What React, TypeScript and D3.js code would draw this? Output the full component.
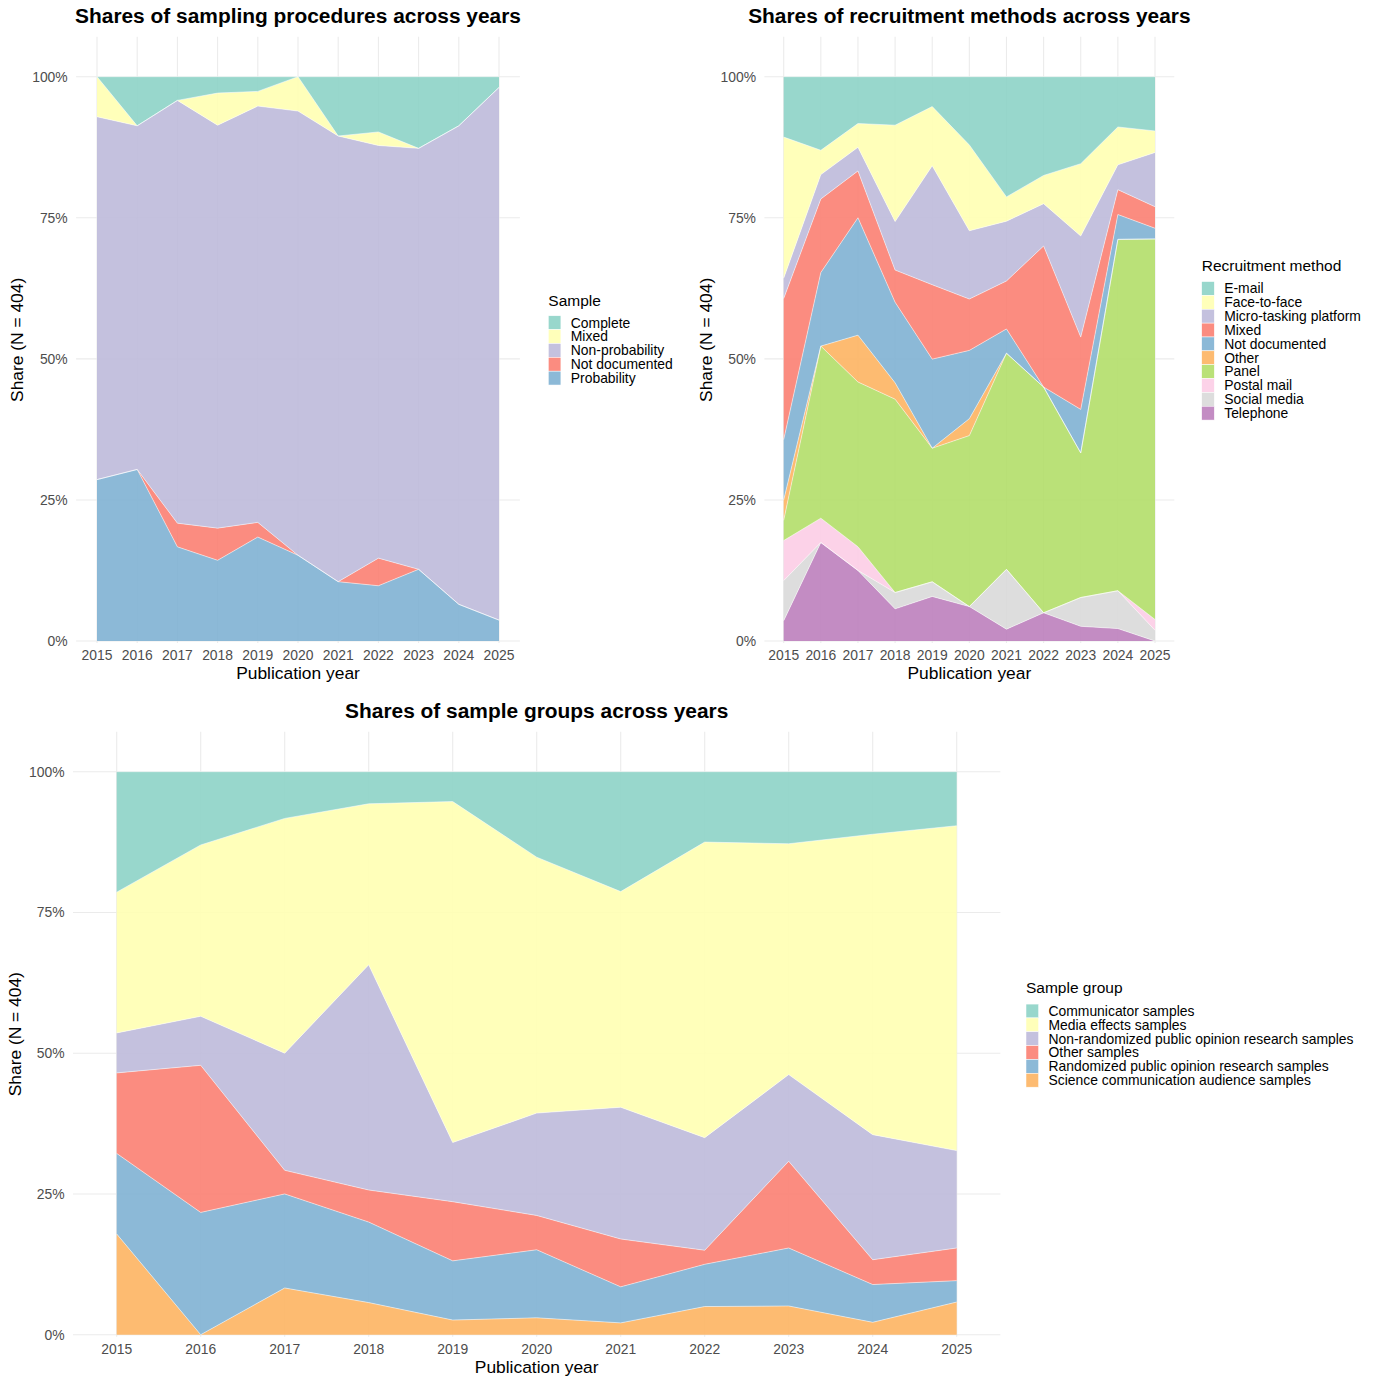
import React, { useEffect, useRef } from 'react'
import * as d3 from 'd3'

const FONT = 'Liberation Sans, Arial, Helvetica, sans-serif'

const years = [2015, 2016, 2017, 2018, 2019, 2020, 2021, 2022, 2023, 2024, 2025]
const shareTicks = [0, 0.25, 0.5, 0.75, 1]

// RColorBrewer Set3, in legend order
const set3 = ['#8DD3C7', '#FFFFB3', '#BEBADA', '#FB8072', '#80B1D3', '#FDB462', '#B3DE69', '#FCCDE5', '#D9D9D9', '#BC80BD']

// sampling procedures, % of studies per year
const sampleLabels = ['Complete', 'Mixed', 'Non-probability', 'Not documented', 'Probability']
const sampleComplete = [0, 8.7, 4.2, 2.9, 2.6, 0, 10.5, 9.8, 12.7, 8.7, 1.9]
const sampleMixed = [7.1, 0, 0, 5.7, 2.6, 6.1, 0, 2.4, 0, 0, 0]
const sampleNonProbability = [64.3, 60.9, 75.0, 71.4, 73.7, 78.8, 78.9, 73.2, 74.6, 84.8, 94.4]
const sampleNotDocumented = [0, 0, 4.2, 5.7, 2.6, 0, 0, 4.9, 0, 0, 0]
const sampleProbability = [28.6, 30.4, 16.7, 14.3, 18.4, 15.2, 10.5, 9.8, 12.7, 6.5, 3.7]

// recruitment methods
const recruitLabels = ['E-mail', 'Face-to-face', 'Micro-tasking platform', 'Mixed', 'Not documented', 'Other', 'Panel', 'Postal mail', 'Social media', 'Telephone']
const recruitEmail = [10.7, 13.0, 8.3, 8.6, 5.3, 12.1, 21.3, 17.5, 15.4, 8.9, 9.6]
const recruitFaceToFace = [25.0, 4.3, 4.2, 17.1, 10.5, 15.2, 4.3, 5.0, 12.8, 6.7, 3.8]
const recruitMicroTasking = [3.6, 4.3, 4.2, 8.6, 21.1, 12.1, 10.6, 7.5, 17.9, 4.4, 9.6]
const recruitMixed = [25.0, 13.0, 8.3, 5.7, 13.2, 9.1, 8.5, 25.0, 12.8, 4.4, 3.8]
const recruitNotDocumented = [10.7, 13.0, 20.8, 14.3, 15.8, 12.1, 4.3, 0, 7.7, 4.4, 1.9]
const recruitOther = [3.6, 0, 8.3, 2.9, 0, 3.0, 0, 0, 0, 0, 0]
const recruitPanel = [3.6, 30.4, 29.2, 34.3, 23.7, 30.3, 38.3, 40.0, 25.6, 62.2, 67.3]
const recruitPostal = [7.1, 4.3, 4.2, 0, 0, 0, 0, 0, 0, 0, 1.9]
const recruitSocial = [7.1, 0, 0, 2.9, 2.6, 0, 10.6, 0, 5.1, 6.7, 1.9]
const recruitTelephone = [3.6, 17.4, 12.5, 5.7, 7.9, 6.1, 2.1, 5.0, 2.6, 2.2, 0]

// sample groups
const groupLabels = [
  'Communicator samples',
  'Media effects samples',
  'Non-randomized public opinion research samples',
  'Other samples',
  'Randomized public opinion research samples',
  'Science communication audience samples',
]
const groupCommunicator = [21.4, 13.0, 8.3, 5.7, 5.3, 15.2, 21.3, 12.5, 12.8, 11.1, 9.6]
const groupMediaEffects = [25.0, 30.4, 41.7, 28.6, 60.5, 45.5, 38.3, 52.5, 41.0, 53.3, 57.7]
const groupNonRandomized = [7.1, 8.7, 20.8, 40.0, 10.5, 18.2, 23.4, 20.0, 15.4, 22.2, 17.3]
const groupOther = [14.3, 26.1, 4.2, 5.7, 10.5, 6.1, 8.5, 2.5, 15.4, 4.4, 5.8]
const groupRandomized = [14.3, 21.7, 16.7, 14.3, 10.5, 12.1, 6.4, 7.5, 10.3, 6.7, 3.8]
const groupScience = [17.9, 0, 8.3, 5.7, 2.6, 3.0, 2.1, 5.0, 5.1, 2.2, 5.8]

const buildRows = (labels, series) =>
  years.map((year, i) => {
    const row = { year }
    labels.forEach((l, j) => (row[l] = series[j][i]))
    return row
  })

const panels = [
  {
    title: 'Shares of sampling procedures across years',
    labels: sampleLabels,
    rows: buildRows(sampleLabels, [sampleComplete, sampleMixed, sampleNonProbability, sampleNotDocumented, sampleProbability]),
    xRange: [97, 499],
    yRange: [641, 76.7],
    panelTop: 36.7,
    titleY: 23.3,
    yTitleX: 22.6,
    legend: { x: 548.3, titleY: 306, firstY: 322.7, title: 'Sample' },
  },
  {
    title: 'Shares of recruitment methods across years',
    labels: recruitLabels,
    rows: buildRows(recruitLabels, [
      recruitEmail, recruitFaceToFace, recruitMicroTasking, recruitMixed, recruitNotDocumented,
      recruitOther, recruitPanel, recruitPostal, recruitSocial, recruitTelephone,
    ]),
    xRange: [783.7, 1155],
    yRange: [641, 76.7],
    panelTop: 36.7,
    titleY: 23.3,
    yTitleX: 711.5,
    legend: { x: 1201.7, titleY: 270.7, firstY: 288.5, title: 'Recruitment method' },
  },
  {
    title: 'Shares of sample groups across years',
    labels: groupLabels,
    rows: buildRows(groupLabels, [groupCommunicator, groupMediaEffects, groupNonRandomized, groupOther, groupRandomized, groupScience]),
    xRange: [116.7, 956.7],
    yRange: [1334.7, 771.7],
    panelTop: 731.7,
    titleY: 718.3,
    yTitleX: 20.5,
    legend: { x: 1026, titleY: 993.3, firstY: 1011, title: 'Sample group' },
  },
]

const AreaPanel = ({ cfg }) => {
  const gRef = useRef(null)

  useEffect(() => {
    if (!gRef.current) return
    const g = d3.select(gRef.current)
    g.selectAll('*').remove()

    const x = d3.scaleLinear().domain([2015, 2025]).range(cfg.xRange)
    const y = d3.scaleLinear().domain([0, 1]).range(cfg.yRange)
    const step = x(2016) - x(2015)
    const left = cfg.xRange[0] - step * 0.52
    const right = cfg.xRange[1] + step * 0.52
    const top = cfg.panelTop
    const bottom = cfg.yRange[0] + 2
    const color = d3.scaleOrdinal().domain(cfg.labels).range(set3)

    // grid
    g.append('g')
      .selectAll('line')
      .data(shareTicks)
      .join('line')
      .attr('x1', left)
      .attr('x2', right)
      .attr('y1', (d) => y(d))
      .attr('y2', (d) => y(d))
      .attr('stroke', '#EBEBEB')
      .attr('stroke-width', 1.07)
    g.append('g')
      .selectAll('line')
      .data(years)
      .join('line')
      .attr('x1', (d) => x(d))
      .attr('x2', (d) => x(d))
      .attr('y1', top)
      .attr('y2', bottom)
      .attr('stroke', '#EBEBEB')
      .attr('stroke-width', 1.07)

    const stack = d3
      .stack()
      .keys([...cfg.labels].reverse())
      .offset(d3.stackOffsetExpand)
    const layers = stack(cfg.rows)

    const area = d3
      .area()
      .x((d) => x(d.data.year))
      .y0((d) => y(d[0]))
      .y1((d) => y(d[1]))
    const upper = d3
      .line()
      .x((d) => x(d.data.year))
      .y((d) => y(d[1]))

    g.append('g')
      .selectAll('path')
      .data(layers)
      .join('path')
      .attr('d', area)
      .attr('fill', (d) => color(d.key))
      .attr('fill-opacity', 0.9)
    g.append('g')
      .selectAll('path')
      .data(layers)
      .join('path')
      .attr('d', upper)
      .attr('fill', 'none')
      .attr('stroke', 'white')
      .attr('stroke-width', 0.5)

    // axes text
    g.append('g')
      .selectAll('text')
      .data(shareTicks)
      .join('text')
      .attr('x', left - 8.4)
      .attr('y', (d) => y(d))
      .attr('dy', '0.35em')
      .attr('text-anchor', 'end')
      .attr('font-size', 13.9)
      .attr('fill', '#4D4D4D')
      .text(d3.format('.0%'))
    g.append('g')
      .selectAll('text')
      .data(years)
      .join('text')
      .attr('x', (d) => x(d))
      .attr('y', cfg.yRange[0] + 19)
      .attr('text-anchor', 'middle')
      .attr('font-size', 13.9)
      .attr('fill', '#4D4D4D')
      .text((d) => d)

    const cx = (left + right) / 2
    g.append('text')
      .attr('x', cx)
      .attr('y', cfg.yRange[0] + 38.3)
      .attr('text-anchor', 'middle')
      .attr('font-size', 17.4)
      .text('Publication year')
    g.append('text')
      .attr('transform', `translate(${cfg.yTitleX},${(top + bottom) / 2}) rotate(-90)`)
      .attr('text-anchor', 'middle')
      .attr('font-size', 17.4)
      .text('Share (N = 404)')
    g.append('text')
      .attr('x', cx)
      .attr('y', cfg.titleY)
      .attr('text-anchor', 'middle')
      .attr('font-size', 20.9)
      .attr('font-weight', 'bold')
      .text(cfg.title)

    // legend
    const lg = cfg.legend
    const rowH = 13.85
    const leg = g.append('g')
    leg.append('text')
      .attr('x', lg.x)
      .attr('y', lg.titleY)
      .attr('font-size', 15.5)
      .text(lg.title)
    const item = leg
      .selectAll('g.item')
      .data(cfg.labels)
      .join('g')
      .attr('class', 'item')
      .attr('transform', (d, i) => `translate(${lg.x},${lg.firstY + i * rowH})`)
    item.append('rect')
      .attr('x', 0)
      .attr('y', -rowH / 2)
      .attr('width', 12.6)
      .attr('height', rowH)
      .attr('fill', (d) => color(d))
      .attr('fill-opacity', 0.9)
      .attr('stroke', 'white')
      .attr('stroke-width', 0.5)
    item.append('text')
      .attr('x', 22.5)
      .attr('dy', '0.35em')
      .attr('font-size', 13.9)
      .text((d) => d)
  }, [cfg])

  return <g ref={gRef} />
}

const App = () => (
  <svg
    width={1374}
    height={1386}
    style={{ position: 'absolute', left: 0, top: 0, background: 'white' }}
    fontFamily={FONT}
  >
    {panels.map((p) => (
      <AreaPanel key={p.title} cfg={p} />
    ))}
  </svg>
)

export default App
